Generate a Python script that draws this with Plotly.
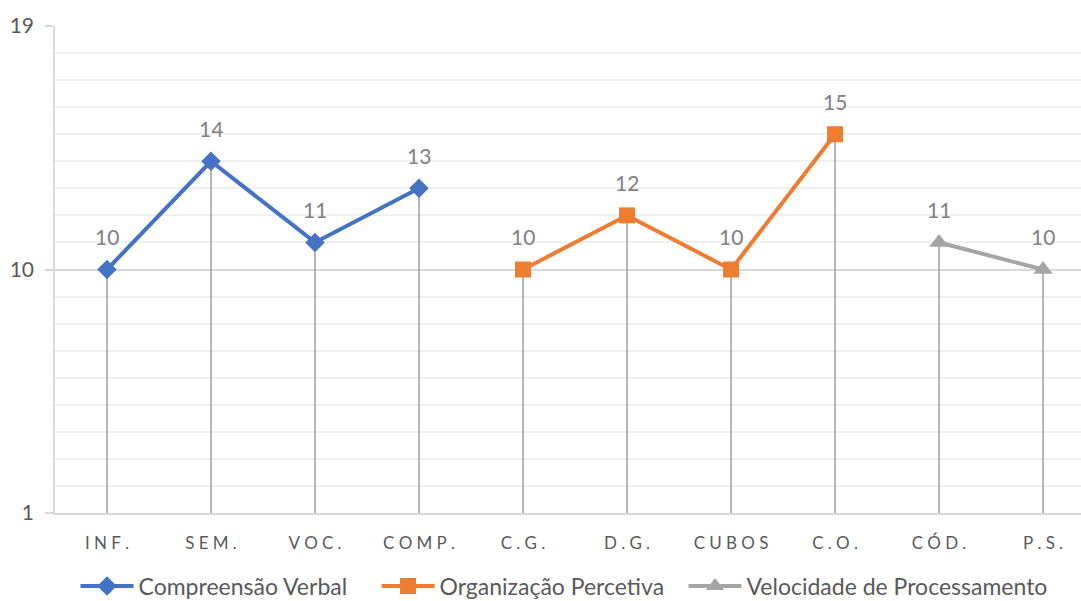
import plotly.graph_objects as go

# Subtest categories (x axis)
categories = ["INF.", "SEM.", "VOC.", "COMP.", "C.G.", "D.G.", "CUBOS", "C.O.", "CÓD.", "P.S."]

# Scores per index
verbal_cats = ["INF.", "SEM.", "VOC.", "COMP."]
verbal_vals = [10, 14, 11, 13]
percept_cats = ["C.G.", "D.G.", "CUBOS", "C.O."]
percept_vals = [10, 12, 10, 15]
speed_cats = ["CÓD.", "P.S."]
speed_vals = [11, 10]

y_min, y_max = 1, 19
y_ticks = [1, 10, 19]

FONT = "Lato, Carlito, Calibri, sans-serif"
BLUE, ORANGE, GRAY = "#4472C4", "#ED7D31", "#A5A5A5"


def spaced(label):
    # widen tick labels with thin spaces between characters
    return "\u2009\u200a\u200a".join(label)


series = [
    ("Compreensão Verbal", verbal_cats, verbal_vals, BLUE, "diamond", 15, "legend", 0.020),
    ("Organização Percetiva", percept_cats, percept_vals, ORANGE, "square", 16, "legend2", 0.3134),
    ("Velocidade de Processamento", speed_cats, speed_vals, GRAY, "triangle-up", 17, "legend3", 0.6126),
]

fig = go.Figure()

# drop lines from every point down to the axis floor
drop_x, drop_y = [], []
for _, cats, vals, *_ in series:
    for c, v in zip(cats, vals):
        drop_x += [c, c, None]
        drop_y += [v, y_min, None]
fig.add_trace(go.Scatter(
    x=drop_x, y=drop_y, mode="lines",
    line=dict(color="#A6A6A6", width=1.6),
    showlegend=False, hoverinfo="skip",
))

legend_layout = {}
for name, cats, vals, color, symbol, size, leg, leg_x in series:
    fig.add_trace(go.Scatter(
        x=cats, y=vals, name=name, mode="lines+markers",
        line=dict(color=color, width=4),
        marker=dict(symbol=symbol, size=size, color=color),
        legend=leg,
    ))
    legend_layout[leg] = dict(
        orientation="h", x=leg_x, xanchor="left", y=-0.15, yanchor="middle",
        font=dict(family=FONT, size=23, color="#595959"),
        itemwidth=53, bgcolor="rgba(0,0,0,0)",
    )
    for c, v in zip(cats, vals):
        fig.add_annotation(
            x=c, y=v, text=str(v), showarrow=False,
            yshift=33, font=dict(family=FONT, size=21, color="#808080"),
        )

fig.update_layout(
    width=1081, height=601,
    margin=dict(l=55, r=0, t=26, b=88, autoexpand=False),
    paper_bgcolor="white", plot_bgcolor="white",
    font=dict(family=FONT, color="#595959"),
    showlegend=True,
    **legend_layout,
)

fig.update_xaxes(
    type="category",
    categoryorder="array", categoryarray=categories,
    tickvals=categories, ticktext=[spaced(c) for c in categories],
    range=[-0.5, 9.365],
    showgrid=False, zeroline=False,
    showline=True, linecolor="#D9D9D9", linewidth=1.5,
    ticks="", tickfont=dict(family=FONT, size=17, color="#595959"),
    ticklabelstandoff=14, automargin=False,
)

fig.update_yaxes(
    range=[y_min, y_max],
    tickvals=y_ticks,
    showgrid=True, gridcolor="#D9D9D9", gridwidth=1.5,
    minor=dict(dtick=1, tick0=1, showgrid=True, gridcolor="#F0F0F0", gridwidth=1.5),
    zeroline=False,
    showline=True, linecolor="#D9D9D9", linewidth=1.5,
    ticks="outside", ticklen=8, tickcolor="#D9D9D9", tickwidth=1.5,
    tickfont=dict(family=FONT, size=21, color="#595959"),
    ticklabelstandoff=7, automargin=False,
)

fig.write_html("out.html")
